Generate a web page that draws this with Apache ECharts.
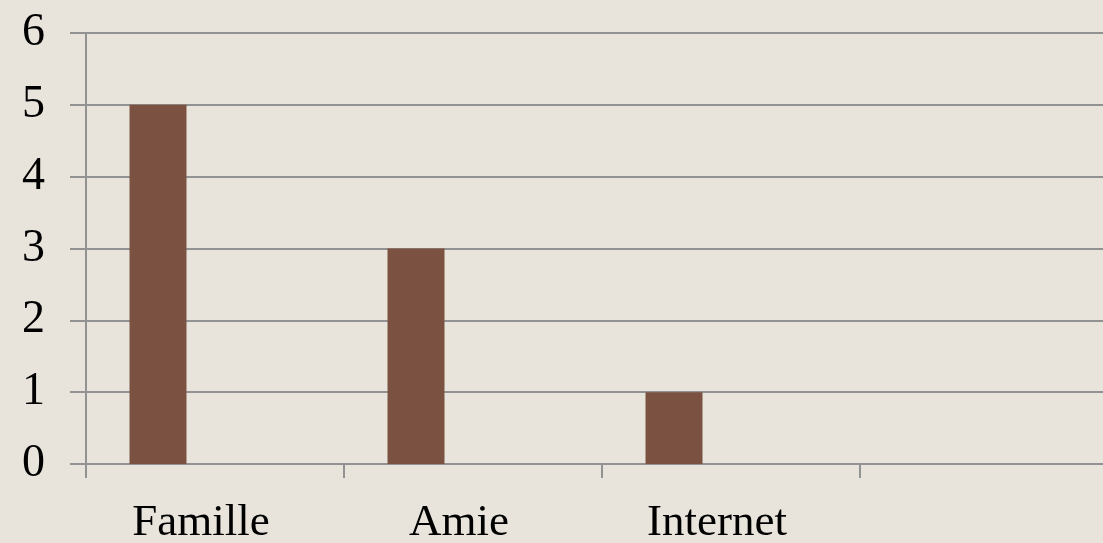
<!DOCTYPE html>
<html>
<head>
<meta charset="utf-8">
<script src="https://cdn.jsdelivr.net/npm/echarts@6/dist/echarts.min.js"></script>
<style>
  html, body { margin: 0; padding: 0; background: #e8e4dc; overflow: hidden; }
  #main { width: 1118px; height: 543px; }
</style>
</head>
<body>
<div id="main"></div>
<script>
// categories and values (Excel clustered chart: only the first series has data)
var categories = ['Famille', 'Amie', 'Internet', ''];
var serie1 = [5, 3, 1, null];
var serie2 = [null, null, null, null];
var serie3 = [null, null, null, null];
var yTicks = [0, 1, 2, 3, 4, 5, 6];

var lineColor = '#929292';

var chart = echarts.init(document.getElementById('main'));
var option = {
    backgroundColor: '#e8e4dc',
    animation: false,
    grid: {
        top: 33,
        left: 86,
        right: 0,
        bottom: 79,
        outerBoundsMode: 'none'
    },
    xAxis: {
        type: 'category',
        data: categories,
        axisLine: { lineStyle: { color: lineColor, width: 2 } },
        axisTick: { show: true, length: 14, lineStyle: { color: lineColor, width: 2 } },
        axisLabel: {
            fontFamily: 'Liberation Serif',
            fontSize: 45,
            color: '#000',
            margin: 37,
            padding: [0, 28, 0, 0]
        }
    },
    yAxis: {
        type: 'value',
        min: yTicks[0],
        max: yTicks[yTicks.length - 1],
        interval: 1,
        axisLine: { show: true, lineStyle: { color: lineColor, width: 2 } },
        axisTick: { show: true, length: 16, lineStyle: { color: lineColor, width: 2 } },
        splitLine: { lineStyle: { color: lineColor, width: 2 } },
        axisLabel: {
            fontFamily: 'Liberation Serif',
            fontSize: 46,
            color: '#000',
            margin: 41
        }
    },
    series: [{
        type: 'bar',
        data: serie1,
        barWidth: 57,
        barGap: 0,
        itemStyle: { color: '#7b5141' }
    }, {
        type: 'bar',
        data: serie2,
        barWidth: 57,
        barGap: 0
    }, {
        type: 'bar',
        data: serie3,
        barWidth: 57,
        barGap: 0
    }]
};
chart.setOption(option);
</script>
</body>
</html>
